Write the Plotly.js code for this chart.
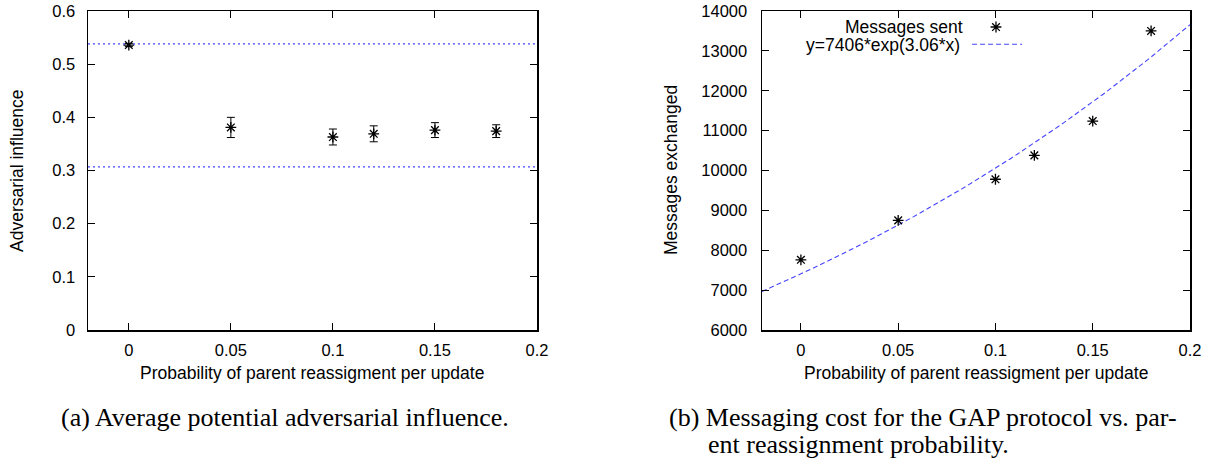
<!DOCTYPE html>
<html>
<head>
<meta charset="utf-8">
<script src="https://cdn.plot.ly/plotly-3.0.1.min.js"></script>
<style>
  html, body { margin: 0; padding: 0; background: #fff; }
  #chart { width: 1215px; height: 476px; }
</style>
</head>
<body>
<div id="chart"></div>
<script>
// Probability of parent reassignment per update (shared x values)
const reassignProb = [0, 0.05, 0.1, 0.12, 0.15, 0.18];

// (a) average potential adversarial influence, with error bar half-widths
const influence    = [0.536, 0.381, 0.363, 0.369, 0.376, 0.374];
const influenceErr = [0.003, 0.019, 0.015, 0.015, 0.014, 0.012];
// reference levels drawn as dotted lines
const influenceUpper = 0.538;
const influenceLower = 0.307;

// (b) messages exchanged
const messagesSent = [7760, 8750, 9780, 10380, 11240, 13500];
// fitted curve y = A * exp(B * x)
const fitA = 7406;
const fitB = 3.06;

const xRange = [-0.02, 0.2];
const influenceTicks = [0, 0.1, 0.2, 0.3, 0.4, 0.5, 0.6];
const messageTicks = [6000, 7000, 8000, 9000, 10000, 11000, 12000, 13000, 14000];
const probTicks = [0, 0.05, 0.1, 0.15, 0.2];

const W = 1215, H = 476;
const px = v => v / W;
const py = v => 1 - v / H;

const BLUE = '#4545ff';
const SANS = 'Liberation Sans, Arial, sans-serif';
const SERIF = 'Liberation Serif, Times New Roman, serif';

// fitted curve sampled across the x range
const fitX = [];
for (let x = xRange[0]; x <= xRange[1] + 1e-9; x += 0.0025) fitX.push(+x.toFixed(4));
const fitY = fitX.map(x => fitA * Math.exp(fitB * x));

const starMarker = {
  symbol: 'asterisk-open', size: 9, color: '#000',
  line: { color: '#000', width: 1.3 }
};

const traces = [
  { // upper dotted level
    x: xRange, y: [influenceUpper, influenceUpper], xaxis: 'x', yaxis: 'y',
    mode: 'lines', line: { color: BLUE, width: 1.3, dash: '2px,3px' }, hoverinfo: 'skip'
  },
  { // lower dotted level
    x: xRange, y: [influenceLower, influenceLower], xaxis: 'x', yaxis: 'y',
    mode: 'lines', line: { color: BLUE, width: 1.3, dash: '2px,3px' }, hoverinfo: 'skip'
  },
  { // influence points with error bars
    x: reassignProb, y: influence, xaxis: 'x', yaxis: 'y',
    mode: 'markers', marker: starMarker,
    error_y: { type: 'data', array: influenceErr, visible: true, color: '#000', thickness: 1, width: 4 }
  },
  { // fitted exponential
    x: fitX, y: fitY, xaxis: 'x2', yaxis: 'y2',
    mode: 'lines', line: { color: BLUE, width: 1.1, dash: '5px,3px' }, hoverinfo: 'skip'
  },
  { // message counts
    x: reassignProb, y: messagesSent, xaxis: 'x2', yaxis: 'y2',
    mode: 'markers', marker: starMarker
  },
  // key samples (in the key's own unit box over the right panel)
  {
    x: [0.5467], y: [0.9498], xaxis: 'x3', yaxis: 'y3',
    mode: 'markers', marker: starMarker, hoverinfo: 'skip'
  },
  {
    x: [0.4907, 0.6075], y: [0.8956, 0.8956], xaxis: 'x3', yaxis: 'y3',
    mode: 'lines', line: { color: BLUE, width: 1.1, dash: '5px,3px' }, hoverinfo: 'skip'
  }
];

const axisCommon = {
  showline: true, linecolor: '#000', linewidth: 1.5, mirror: 'ticks',
  ticks: 'inside', ticklen: 7, tickwidth: 1, tickcolor: '#000',
  showgrid: false, zeroline: false, fixedrange: true,
  tickfont: { family: SANS, size: 16.5, color: '#000' }
};

const layout = {
  width: W, height: H,
  margin: { l: 0, r: 0, t: 0, b: 0 },
  paper_bgcolor: '#fff', plot_bgcolor: '#fff',
  showlegend: false,
  xaxis: Object.assign({}, axisCommon, {
    domain: [px(88), px(537)], range: xRange, anchor: 'y',
    tickvals: probTicks, ticklabelstandoff: 5
  }),
  yaxis: Object.assign({}, axisCommon, {
    domain: [py(330), py(11)], range: [0, 0.6], anchor: 'x',
    tickvals: influenceTicks, ticklabelstandoff: 8
  }),
  xaxis2: Object.assign({}, axisCommon, {
    domain: [px(762), px(1190)], range: xRange, anchor: 'y2',
    tickvals: probTicks, ticklabelstandoff: 5
  }),
  yaxis2: Object.assign({}, axisCommon, {
    domain: [py(330), py(11)], range: [6000, 14000], anchor: 'x2',
    tickvals: messageTicks, tickformat: 'd', ticklabelstandoff: 10
  }),
  xaxis3: { overlaying: 'x2', anchor: 'y3', range: [0, 1], visible: false, fixedrange: true },
  yaxis3: { overlaying: 'y2', anchor: 'x3', range: [0, 1], visible: false, fixedrange: true },
  annotations: [
    // axis titles
    { text: 'Adversarial influence', xref: 'paper', yref: 'paper', x: px(17), y: py(171),
      textangle: -90, showarrow: false, xanchor: 'center', yanchor: 'middle',
      font: { family: SANS, size: 17.5, color: '#000' } },
    { text: 'Probability of parent reassigment per update', xref: 'paper', yref: 'paper',
      x: px(312), y: py(373), showarrow: false, xanchor: 'center', yanchor: 'middle',
      font: { family: SANS, size: 17.5, color: '#000' } },
    { text: 'Messages exchanged', xref: 'paper', yref: 'paper', x: px(671), y: py(170),
      textangle: -90, showarrow: false, xanchor: 'center', yanchor: 'middle',
      font: { family: SANS, size: 17.5, color: '#000' } },
    { text: 'Probability of parent reassigment per update', xref: 'paper', yref: 'paper',
      x: px(976), y: py(373), showarrow: false, xanchor: 'center', yanchor: 'middle',
      font: { family: SANS, size: 17.5, color: '#000' } },
    // key labels
    { text: 'Messages sent', xref: 'paper', yref: 'paper', x: px(965), y: py(27),
      showarrow: false, xanchor: 'right', yanchor: 'middle',
      font: { family: SANS, size: 17.5, color: '#000' } },
    { text: 'y=7406*exp(3.06*x)', xref: 'paper', yref: 'paper', x: px(962), y: py(44.5),
      showarrow: false, xanchor: 'right', yanchor: 'middle',
      font: { family: SANS, size: 17.5, color: '#000' } },
    // captions
    { text: '(a) Average potential adversarial influence.', xref: 'paper', yref: 'paper',
      x: px(285), y: py(417), showarrow: false, xanchor: 'center', yanchor: 'middle',
      font: { family: SERIF, size: 26, color: '#000' } },
    { text: '(b) Messaging cost for the GAP protocol vs. par-', xref: 'paper', yref: 'paper',
      x: px(667), y: py(417), showarrow: false, xanchor: 'left', yanchor: 'middle',
      font: { family: SERIF, size: 26, color: '#000' } },
    { text: 'ent reassignment probability.', xref: 'paper', yref: 'paper',
      x: px(706), y: py(444), showarrow: false, xanchor: 'left', yanchor: 'middle',
      font: { family: SERIF, size: 26, color: '#000' } }
  ]
};

Plotly.newPlot('chart', traces, layout, { staticPlot: true, displayModeBar: false });
</script>
</body>
</html>
